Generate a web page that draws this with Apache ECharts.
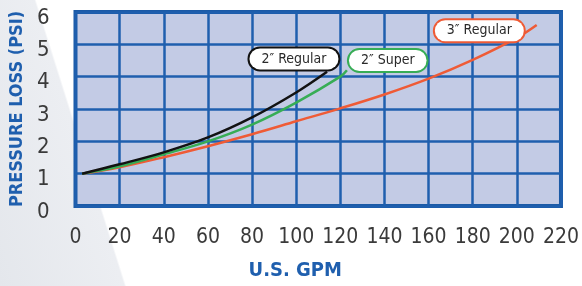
<!DOCTYPE html>
<html>
<head>
<meta charset="utf-8">
<script src="https://cdn.jsdelivr.net/npm/echarts@6/dist/echarts.min.js"></script>
<style>
  html, body { margin: 0; padding: 0; }
  #chart {
    width: 582px;
    height: 286px;
    background: linear-gradient(72.5deg, #e4e7ec 0%, #eceef2 18.5%, #ffffff 18.8%);
  }
</style>
</head>
<body>
<div id="chart"></div>
<script>
// flow (US GPM) vs pressure loss (PSI)
const xTicks = [0, 20, 40, 60, 80, 100, 120, 140, 160, 180, 200, 220]
const yTicks = [0, 1, 2, 3, 4, 5, 6]

const reg2Gpm = [3, 20, 40, 60, 80, 100, 114]
const reg2Psi = [1.0, 1.29, 1.66, 2.12, 2.74, 3.51, 4.15]

const super2Gpm = [3, 20, 40, 60, 80, 100, 120, 123]
const super2Psi = [1.0, 1.23, 1.6, 2.0, 2.52, 3.2, 4.0, 4.2]

const reg3Gpm = [3, 20, 40, 60, 80, 100, 120, 140, 160, 180, 200, 209]
const reg3Psi = [1.0, 1.2, 1.51, 1.85, 2.22, 2.62, 3.02, 3.45, 3.94, 4.52, 5.2, 5.6]

const seriesNames = ['2″ Regular', '2″ Super', '3″ Regular']

const narrow = '"DejaVu Sans Condensed", "Liberation Sans Narrow", sans-serif'

const pairs = (xs, ys) => xs.map((x, i) => [x, ys[i]])

const bubble = (color) => ({
  show: true,
  position: 'inside',
  formatter: '{b}',
  color: '#2a2a2a',
  fontFamily: narrow,
  fontSize: 14,
  backgroundColor: '#ffffff',
  borderColor: color,
  borderWidth: 2,
  borderRadius: 12,
  padding: [4, 12, 3, 12],
})

const lineSeries = (name, data, color, labelAt) => ({
  name: name,
  type: 'line',
  data: data,
  smooth: 0.35,
  symbol: 'none',
  lineStyle: { color: color, width: 2.5 },
  markPoint: {
    symbol: 'circle',
    symbolSize: 0,
    silent: true,
    label: bubble(color),
    data: [{ name: name, coord: labelAt }],
  },
})

const chart = echarts.init(document.getElementById('chart'))

chart.setOption({
  animation: false,
  grid: {
    left: 75,
    right: 21,
    top: 12,
    bottom: 79,
    show: true,
    backgroundColor: '#c3cbe5',
    borderColor: '#1b5aa6',
    borderWidth: 4,
  },
  xAxis: {
    type: 'value',
    min: xTicks[0],
    max: xTicks[xTicks.length - 1],
    interval: 20,
    name: 'U.S. GPM',
    nameLocation: 'middle',
    nameGap: 55,
    nameTextStyle: {
      color: '#1f5fae',
      fontFamily: narrow,
      fontWeight: 'bold',
      fontSize: 20,
      padding: [0, 46, 0, 0],
    },
    axisLine: { show: false },
    axisTick: { show: false },
    axisLabel: {
      margin: 21,
      color: '#3a3a3a',
      fontFamily: narrow,
      fontSize: 21,
    },
    splitLine: { lineStyle: { color: '#1f5fae', width: 2.5 } },
  },
  yAxis: {
    type: 'value',
    min: yTicks[0],
    max: yTicks[yTicks.length - 1],
    interval: 1,
    name: 'PRESSURE LOSS (PSI)',
    nameLocation: 'middle',
    nameGap: 47,
    nameTextStyle: {
      color: '#1f5fae',
      fontFamily: narrow,
      fontWeight: 'bold',
      fontSize: 18,
    },
    axisLine: { show: false },
    axisTick: { show: false },
    axisLabel: {
      margin: 26,
      color: '#3a3a3a',
      fontFamily: narrow,
      fontSize: 22,
      verticalAlign: 'top',
      lineHeight: 12,
    },
    splitLine: { lineStyle: { color: '#1f5fae', width: 2.5 } },
  },
  series: [
    lineSeries(seriesNames[2], pairs(reg3Gpm, reg3Psi), '#ef5b36', [183, 5.42]),
    lineSeries(seriesNames[1], pairs(super2Gpm, super2Psi), '#37ad55', [141.5, 4.5]),
    lineSeries(seriesNames[0], pairs(reg2Gpm, reg2Psi), '#121212', [99, 4.55]),
  ],
})

window.addEventListener('resize', function () {
  chart && chart.resize()
})
</script>
</body>
</html>
